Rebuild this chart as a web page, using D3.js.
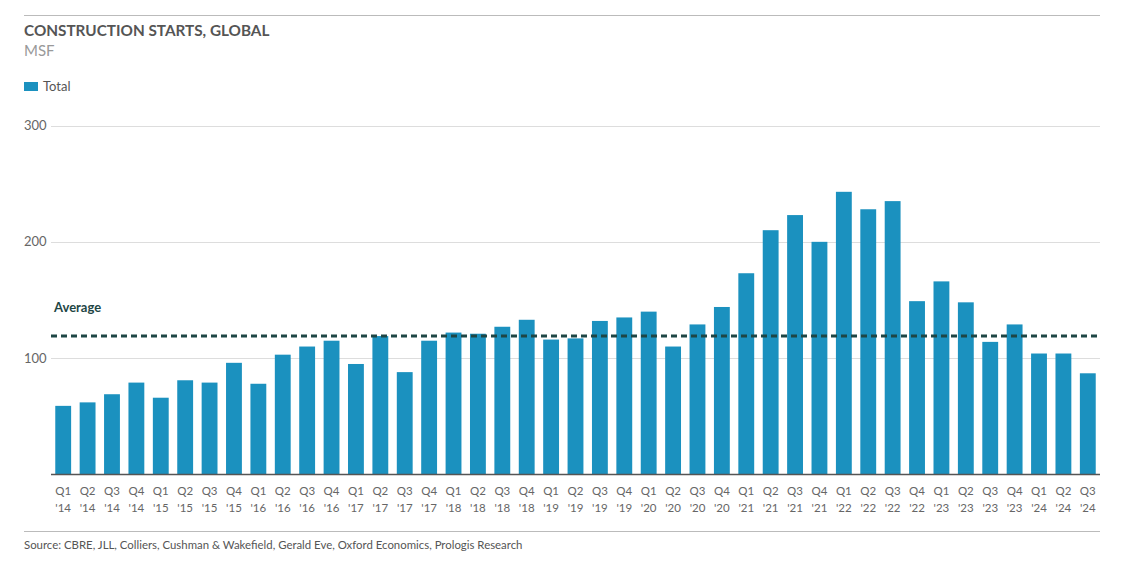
<!DOCTYPE html>
<html><head><meta charset="utf-8">
<script src="https://cdn.jsdelivr.net/npm/d3@7"></script>
<style>body{margin:0;background:#fff}svg{display:block}text{font-family:"Source Sans Pro",Lato,"Open Sans",sans-serif}</style>
</head><body><svg id="c" width="1123" height="569"></svg>
<script>
const quarters = ["Q1","Q2","Q3","Q4"];
const years = ["'14","'15","'16","'17","'18","'19","'20","'21","'22","'23","'24"];
const categories = ["Q1 '14","Q2 '14","Q3 '14","Q4 '14","Q1 '15","Q2 '15","Q3 '15","Q4 '15","Q1 '16","Q2 '16","Q3 '16","Q4 '16","Q1 '17","Q2 '17","Q3 '17","Q4 '17","Q1 '18","Q2 '18","Q3 '18","Q4 '18","Q1 '19","Q2 '19","Q3 '19","Q4 '19","Q1 '20","Q2 '20","Q3 '20","Q4 '20","Q1 '21","Q2 '21","Q3 '21","Q4 '21","Q1 '22","Q2 '22","Q3 '22","Q4 '22","Q1 '23","Q2 '23","Q3 '23","Q4 '23","Q1 '24","Q2 '24","Q3 '24"];
const totals = [59,62,69,79,66,81,79,96,78,103,110,115,95,119,88,115,122,121,127,133,116,117,132,135,140,110,129,144,173,210,223,200,243,228,235,149,166,148,114,129,104,104,87];
const average = 119;
const yTicks = [100,200,300];
const title = "CONSTRUCTION STARTS, GLOBAL";
const subtitle = "MSF";
const seriesName = "Total";
const source = "Source: CBRE, JLL, Colliers, Cushman & Wakefield, Gerald Eve, Oxford Economics, Prologis Research";

const svg = d3.select("#c");
const barColor = "#1b91bf";
const x = d3.scaleBand().domain(categories).range([51,1100]).paddingInner(0.35).paddingOuter(0.175);
const y = d3.scaleLinear().domain([0,300]).range([474.5,125.5]);

svg.append("line").attr("x1",24).attr("x2",1100).attr("y1",15.5).attr("y2",15.5).attr("stroke","#bbb");
svg.append("text").attr("x",24).attr("y",36).attr("font-size",15.3).attr("font-weight",700).attr("fill","#555").text(title);
svg.append("text").attr("x",24).attr("y",56).attr("font-size",15).attr("fill","#999").text(subtitle);
svg.append("rect").attr("x",24).attr("y",82).attr("width",14).attr("height",9).attr("fill",barColor);
svg.append("text").attr("x",43).attr("y",91).attr("font-size",13).attr("fill","#555").text(seriesName);

// gridlines
svg.append("g").selectAll("line").data(yTicks).join("line")
  .attr("x1",51).attr("x2",1100).attr("y1",d=>Math.round(y(d))+0.5).attr("y2",d=>Math.round(y(d))+0.5)
  .attr("stroke","#ddd");
svg.append("g").selectAll("text").data(yTicks).join("text")
  .attr("x",24).attr("y",d=>y(d)+4.5).attr("font-size",13).attr("fill","#666").text(d=>d);

// bars
svg.append("g").selectAll("rect").data(totals).join("rect")
  .attr("x",(d,i)=>x(categories[i])).attr("width",x.bandwidth())
  .attr("y",d=>y(d)).attr("height",d=>y(0)-y(d)).attr("fill",barColor);

// baseline
svg.append("line").attr("x1",51).attr("x2",1100).attr("y1",474.5).attr("y2",474.5).attr("stroke","#555").attr("stroke-width",1.5);

// x labels
const xl = svg.append("g").selectAll("g").data(categories).join("g")
  .attr("transform",d=>`translate(${x(d)+x.bandwidth()/2},0)`);
xl.append("text").attr("y",495).attr("text-anchor","middle").attr("font-size",11.5).attr("fill","#666").text(d=>d.split(" ")[0]);
xl.append("text").attr("y",512).attr("text-anchor","middle").attr("font-size",11.5).attr("fill","#666").text(d=>d.split(" ")[1]);

// average
svg.append("line").attr("x1",51).attr("x2",1100).attr("y1",y(average)).attr("y2",y(average))
  .attr("stroke","#1e4645").attr("stroke-width",3).attr("stroke-dasharray","6,4");
svg.append("text").attr("x",54).attr("y",y(average)-24).attr("font-size",13).attr("font-weight",700).attr("fill","#1e4645").text("Average");

svg.append("line").attr("x1",24).attr("x2",1100).attr("y1",531.5).attr("y2",531.5).attr("stroke","#bbb");
svg.append("text").attr("x",24).attr("y",549).attr("font-size",11.4).attr("fill","#555").text(source);
</script></body></html>
